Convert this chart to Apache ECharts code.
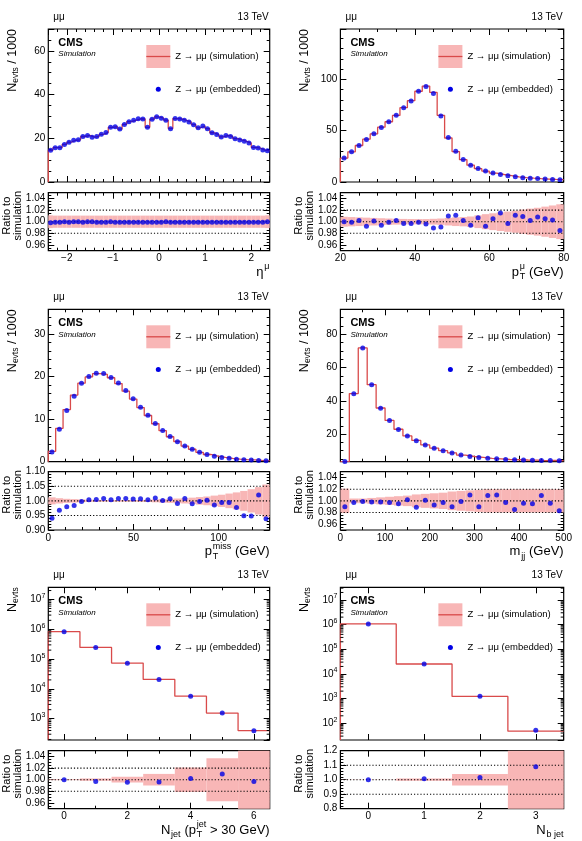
<!DOCTYPE html>
<html>
<head>
<meta charset="utf-8">
<script src="https://cdn.jsdelivr.net/npm/echarts@6.0.0/dist/echarts.min.js"></script>
<style>
html, body { margin: 0; padding: 0; background: #fff; }
#chart { width: 582px; height: 841px; }
</style>
</head>
<body>
<div id="chart"></div>
<script>
// ---- data ----
// eta of the muon, 48 bins from -2.4 to 2.4 (Nevts / 1000)
var etaRange = [-2.4, 2.4];
var etaEmb = [14.5, 15.7, 15.7, 17.2, 18.2, 19.1, 19.3, 20.8, 21.3, 20.5, 20.8, 21.8, 22.7, 25.0, 25.3, 24.2,
	26.3, 27.6, 28.2, 28.9, 28.8, 25.0, 28.7, 29.8, 29.2, 28.3, 24.4, 29.0, 28.8, 28.2, 27.4, 26.2,
	24.8, 25.6, 24.4, 22.5, 21.7, 20.6, 21.3, 20.8, 19.8, 19.2, 18.6, 17.8, 15.8, 15.5, 14.6, 14.3];
var etaRatio = [0.998, 0.999, 0.999, 1.000, 0.999, 1.000, 1.000, 0.999, 1.000, 1.000, 0.999, 0.999, 0.999, 1.000, 0.999, 0.999,
	0.999, 0.999, 0.999, 0.999, 0.999, 0.999, 0.999, 0.999, 0.999, 1.000, 0.999, 0.999, 0.999, 0.999, 0.999, 0.999,
	0.999, 0.999, 0.999, 0.999, 0.999, 0.999, 0.999, 0.999, 0.999, 0.999, 0.999, 0.999, 0.999, 0.999, 0.999, 1.000];
var etaUnc = [0.011, 0.0105, 0.0105, 0.0105, 0.0105, 0.0105, 0.0105, 0.0105, 0.0105, 0.0105, 0.0105, 0.0105, 0.0105, 0.0105, 0.0105, 0.0105,
	0.0105, 0.0105, 0.0105, 0.0105, 0.0105, 0.0105, 0.0105, 0.0105, 0.0105, 0.0105, 0.0105, 0.0105, 0.0105, 0.0105, 0.0105, 0.0105,
	0.0105, 0.0105, 0.0105, 0.0105, 0.0105, 0.0105, 0.0105, 0.0105, 0.0105, 0.0105, 0.0105, 0.0105, 0.0105, 0.0105, 0.0105, 0.011];

// pT of the muon, 30 bins from 20 to 80 GeV
var ptRange = [20, 80];
var ptEmb = [23.3, 29.4, 35.6, 41.4, 46.9, 53.1, 58.6, 65.0, 72.2, 79.0, 88.3, 93.0, 86.3, 64.3, 43.3,
	30.0, 21.8, 16.3, 13.1, 10.6, 8.7, 7.4, 6.1, 5.0, 4.2, 3.7, 3.3, 2.9, 2.5, 2.2];
var ptRatio = [1.000, 0.999, 1.002, 0.992, 1.001, 0.994, 0.999, 1.002, 0.997, 0.997, 0.999, 0.996, 0.989, 0.991, 1.010,
	1.011, 1.002, 0.994, 1.007, 0.992, 1.005, 1.015, 0.997, 1.011, 1.009, 1.002, 1.008, 1.005, 1.003, 0.985];
var ptUnc = [0.0085, 0.008, 0.0075, 0.007, 0.0065, 0.006, 0.0055, 0.005, 0.0048, 0.0046, 0.0045, 0.0045, 0.005, 0.0055, 0.0065,
	0.0075, 0.008, 0.009, 0.011, 0.013, 0.0145, 0.016, 0.0175, 0.019, 0.021, 0.0225, 0.024, 0.026, 0.028, 0.030];

// missing pT, 30 bins from 0 to 130 GeV
var metRange = [0, 130];
var metEmb = [2.3, 7.6, 12.0, 15.4, 18.4, 20.0, 20.8, 20.7, 19.8, 18.5, 16.7, 14.8, 12.8, 10.9, 9.0,
	7.3, 5.9, 4.7, 3.7, 2.9, 2.2, 1.7, 1.3, 1.0, 0.8, 0.6, 0.45, 0.4, 0.3, 0.25];
var metRatio = [0.940, 0.968, 0.980, 0.984, 0.998, 1.004, 1.005, 1.008, 1.004, 1.008, 1.008, 1.006, 1.007, 1.004, 1.010,
	1.001, 1.007, 0.991, 1.008, 0.990, 0.998, 1.002, 0.986, 0.994, 0.994, 0.977, 0.949, 0.948, 1.020, 0.939];
var metUnc = [0.012, 0.009, 0.007, 0.006, 0.005, 0.004, 0.0035, 0.003, 0.003, 0.003, 0.003, 0.003, 0.0035, 0.004, 0.005,
	0.006, 0.007, 0.008, 0.009, 0.011, 0.013, 0.015, 0.018, 0.021, 0.025, 0.029, 0.034, 0.040, 0.047, 0.056];

// dijet mass, 25 bins from 0 to 500 GeV
var mjjRange = [0, 500];
var mjjEmb = [3.5, 44.2, 71.7, 49.6, 35.6, 28.1, 22.8, 18.9, 16.0, 13.5, 11.5, 10.0, 8.6, 7.4, 6.6,
	5.9, 5.4, 5.1, 4.7, 4.5, 4.4, 4.3, 4.1, 4.1, 4.0];
var mjjRatio = [0.990, 0.997, 0.999, 0.998, 0.998, 0.997, 0.995, 1.002, 0.989, 1.001, 0.993, 0.997, 0.990, 0.999, 1.010,
	0.990, 1.009, 1.010, 0.997, 0.985, 0.996, 0.995, 1.009, 0.996, 0.983];
var mjjUnc = [0.021, 0.004, 0.004, 0.005, 0.006, 0.007, 0.008, 0.009, 0.011, 0.012, 0.013, 0.014, 0.016, 0.017, 0.018,
	0.019, 0.020, 0.020, 0.020, 0.020, 0.020, 0.020, 0.020, 0.020, 0.020];

// jet multiplicity, 0..6
var njetRange = [-0.5, 6.5];
var njetEmb = [8.3e5, 2.46e5, 7.3e4, 2.06e4, 5.7e3, 1.55e3, 396];
var njetRatio = [1.000, 0.997, 0.9955, 0.996, 1.002, 1.010, 0.997];
var njetUnc = [0.0008, 0.002, 0.005, 0.010, 0.021, 0.037, 0.06];

// b jet multiplicity, 0..3
var nbRange = [-0.5, 3.5];
var nbEmb = [1.06e6, 2.54e4, 1.24e3, 52];
var nbRatio = [1.000, 1.007, 1.016, 1.089];
var nbUnc = [0.001, 0.008, 0.04, 0.3];

// ---- style ----
var FONT = '"Liberation Sans", Arial, Helvetica, sans-serif';
var RED = '#d94a4a', BAND = '#f8b6b6', BLUE = '#0000e6';

var cols = [{left: 48.3, width: 221.4}, {left: 340.4, width: 223.3}];
var rows = [
	{top: 29, h: 153, rTop: 192.7, rH: 58},
	{top: 309.3, h: 152.4, rTop: 471.7, rH: 58.3},
	{top: 587.3, h: 152.7, rTop: 750.7, rH: 58}
];

var panels = [
	{emb: etaEmb, ratio: etaRatio, unc: etaUnc, bins: etaRange, col: 0, row: 0,
		x: {min: -2.4, max: 2.4, step: 1, minor: 5},
		y: {min: 0, max: 70, step: 20, minor: 4},
		r: {min: 0.95, max: 1.05, step: 0.02, minor: 4, d: 2, lines: [0.98, 1, 1.02]},
		yName: '{n|N}{s|evts}{n| / 1000}',
		xName: [{t: '\u03b7'}, {sup: '\u03bc'}]},
	{emb: ptEmb, ratio: ptRatio, unc: ptUnc, bins: ptRange, col: 1, row: 0,
		x: {min: 20, max: 80, step: 20, minor: 4},
		y: {min: 0, max: 149, step: 50, minor: 5},
		r: {min: 0.95, max: 1.05, step: 0.02, minor: 4, d: 2, lines: [0.98, 1, 1.02]},
		yName: '{n|N}{s|evts}{n| / 1000}',
		xName: [{t: 'p'}, {sup: '\u03bc', sub: 'T'}, {t: ' (GeV)'}]},
	{emb: metEmb, ratio: metRatio, unc: metUnc, bins: metRange, col: 0, row: 1,
		x: {min: 0, max: 130, step: 50, minor: 5},
		y: {min: 0, max: 35.8, step: 10, minor: 5},
		r: {min: 0.9, max: 1.1, step: 0.05, minor: 5, d: 2, lines: [0.95, 1, 1.05]},
		yName: '{n|N}{s|evts}{n| / 1000}',
		xName: [{t: 'p'}, {sup: 'miss', sub: 'T'}, {t: ' (GeV)'}]},
	{emb: mjjEmb, ratio: mjjRatio, unc: mjjUnc, bins: mjjRange, col: 1, row: 1,
		x: {min: 0, max: 500, step: 100, minor: 2},
		y: {min: 3.4, max: 95, step: 20, minor: 4},
		r: {min: 0.95, max: 1.05, step: 0.02, minor: 4, d: 2, lines: [0.98, 1, 1.02]},
		yName: '{n|N}{s|evts}{n| / 1000}',
		xName: [{t: 'm'}, {sub: 'jj'}, {t: ' (GeV)'}]},
	{emb: njetEmb, ratio: njetRatio, unc: njetUnc, bins: njetRange, col: 0, row: 2,
		x: {min: -0.5, max: 6.5, step: 2, minor: 2},
		y: {min: 2.283, max: 7.41, step: 1, log: true},
		r: {min: 0.95, max: 1.05, step: 0.02, minor: 4, d: 2, lines: [0.98, 1, 1.02]},
		yName: '{n|N}{s|evts}',
		xName: [{t: 'N'}, {sub: 'jet'}, {t: ' (p'}, {sup: 'jet', sub: 'T'}, {t: ' > 30 GeV)'}]},
	{emb: nbEmb, ratio: nbRatio, unc: nbUnc, bins: nbRange, col: 1, row: 2,
		x: {min: -0.5, max: 3.5, step: 1, minor: 0},
		y: {min: 1.32, max: 7.51, step: 1, log: true},
		r: {min: 0.8, max: 1.2, step: 0.1, minor: 5, d: 1, lines: [0.9, 1, 1.1]},
		yName: '{n|N}{s|evts}',
		xName: [{t: 'N'}, {sub: 'b jet'}]}
];

var ctx = document.createElement('canvas').getContext('2d');
function measure(t, size) {
	ctx.font = size + 'px ' + FONT;
	return ctx.measureText(t).width;
}
function isMult(v, s) {
	var q = v / s;
	return Math.abs(q - Math.round(q)) < 1e-6;
}

var grids = [], xAxes = [], yAxes = [], series = [], graphics = [];

function axis(o, g, pos, labels, fmt, rich) {
	return {
		type: 'value', gridIndex: g, position: pos,
		min: o.min, max: o.max, minInterval: o.step, maxInterval: o.step, splitNumber: 5,
		axisLine: {show: false, onZero: false},
		axisTick: {show: true, inside: true, length: 6, lineStyle: {color: '#000', width: 1}},
		minorTick: {show: !o.log && o.minor > 1, splitNumber: o.minor || 2, length: 3, lineStyle: {color: '#000', width: 1}},
		splitLine: {show: false},
		axisLabel: {
			show: labels, margin: 3, fontSize: 10, color: '#000', fontFamily: FONT,
			showMinLabel: isMult(o.min, o.step), showMaxLabel: isMult(o.max, o.step),
			formatter: fmt, rich: rich
		}
	};
}

function fmtPlain(v) {
	var r = Math.round(v * 1000) / 1000;
	return r < 0 ? '\u2212' + Math.abs(r) : String(r);
}
function fmtLog(v) {
	return '{b|10}{e|' + Math.round(v) + '}';
}
var logRich = {
	b: {fontSize: 10, lineHeight: 14, fontFamily: FONT, color: '#000'},
	e: {fontSize: 7, lineHeight: 8, verticalAlign: 'top', fontFamily: FONT, color: '#000'}
};

function txt(x, y, s, size, o) {
	o = o || {};
	return {
		type: 'text', x: x, y: y, rotation: o.rot || 0, silent: true, z: 10,
		style: {
			text: s, fontSize: size, fontFamily: FONT,
			fontWeight: o.bold ? 'bold' : 'normal', fontStyle: o.italic ? 'italic' : 'normal',
			fill: '#000', align: o.align || 'left', verticalAlign: o.va || 'middle',
			textAlign: o.align || 'left', textVerticalAlign: o.va || 'middle',
			lineHeight: o.lh, rich: o.rich
		}
	};
}

// axis title made of pieces, right aligned at xr, baseline at base
function xTitle(parts, xr, base) {
	var S = 13, s = 9;
	parts.forEach(function (p) {
		p.w = p.t ? measure(p.t, S) : Math.max(p.sup ? measure(p.sup, s) : 0, p.sub ? measure(p.sub, s) : 0) + 1;
	});
	var x = xr - parts.reduce(function (a, p) { return a + p.w; }, 0);
	parts.forEach(function (p) {
		if (p.t) graphics.push(txt(x, base - 0.3 * S, p.t, S));
		if (p.sup) graphics.push(txt(x + 0.8, base - 6.5 - 0.3 * s, p.sup, s));
		if (p.sub) graphics.push(txt(x + 0.8, base + 3.5 - 0.3 * s, p.sub, s));
		x += p.w;
	});
}

function bandItem(params, api) {
	var a = api.coord([api.value(0), api.value(3)]);
	var b = api.coord([api.value(1), api.value(2)]);
	var cs = params.coordSys;
	var shape = echarts.graphic.clipRectByRect(
		{x: a[0], y: a[1], width: b[0] - a[0], height: b[1] - a[1]},
		{x: cs.x, y: cs.y, width: cs.width, height: cs.height});
	return shape && {type: 'rect', shape: shape, style: {fill: BAND}};
}

function minorLogItem(params, api) {
	var cs = params.coordSys;
	var y = api.coord([api.value(0), api.value(1)])[1];
	return {type: 'group', children: [
		{type: 'line', shape: {x1: cs.x, y1: y, x2: cs.x + 3, y2: y}, style: {stroke: '#000', lineWidth: 1}},
		{type: 'line', shape: {x1: cs.x + cs.width - 3, y1: y, x2: cs.x + cs.width, y2: y}, style: {stroke: '#000', lineWidth: 1}}
	]};
}

panels.forEach(function (p) {
	var c = cols[p.col], r = rows[p.row];
	var gm = grids.length;
	grids.push({left: c.left, top: r.top, width: c.width, height: r.h, show: true, borderColor: '#000', borderWidth: 1.2});
	var gr = grids.length;
	grids.push({left: c.left, top: r.rTop, width: c.width, height: r.rH, show: true, borderColor: '#000', borderWidth: 1.2});

	// axes: bottom/top x, left/right y for both pads
	xAxes.push(axis(p.x, gm, 'bottom', false, fmtPlain));
	xAxes.push(axis(p.x, gm, 'top', false, fmtPlain));
	yAxes.push(axis(p.y, gm, 'left', true, p.y.log ? fmtLog : fmtPlain, p.y.log ? logRich : null));
	yAxes.push(axis(p.y, gm, 'right', false, fmtPlain));
	xAxes.push(axis(p.x, gr, 'bottom', true, fmtPlain));
	xAxes.push(axis(p.x, gr, 'top', false, fmtPlain));
	yAxes.push(axis(p.r, gr, 'left', true, function (v) { return v.toFixed(p.r.d); }));
	yAxes.push(axis(p.r, gr, 'right', false, fmtPlain));

	var n = p.emb.length, lo = p.bins[0], w = (p.bins[1] - lo) / n;
	var tf = p.y.log ? Math.log10 : function (v) { return v; };
	var sim = p.emb.map(function (v, k) { return v / p.ratio[k]; });
	var hist = [[lo, p.y.min]];
	sim.forEach(function (v, k) { hist.push([lo + k * w, tf(v)]); });
	hist.push([lo + n * w, tf(sim[n - 1])]);

	series.push({type: 'line', xAxisIndex: 2 * gm, yAxisIndex: 2 * gm, data: hist, step: 'end',
		symbol: 'none', lineStyle: {color: RED, width: 1.3}, z: 2, silent: true});
	series.push({type: 'scatter', xAxisIndex: 2 * gm, yAxisIndex: 2 * gm, symbolSize: 5,
		data: p.emb.map(function (v, k) { return [lo + (k + 0.5) * w, tf(v)]; }),
		itemStyle: {color: BLUE}, z: 3, silent: true});

	if (p.y.log) {
		var mt = [];
		for (var e = Math.floor(p.y.min); e <= Math.ceil(p.y.max); e++) {
			for (var m = 2; m <= 9; m++) {
				var v = e + Math.log10(m);
				if (v > p.y.min && v < p.y.max) mt.push([p.x.min, v]);
			}
		}
		series.push({type: 'custom', xAxisIndex: 2 * gm, yAxisIndex: 2 * gm, data: mt,
			renderItem: minorLogItem, z: 4, silent: true});
	}

	series.push({type: 'custom', xAxisIndex: 2 * gr, yAxisIndex: 2 * gr, z: 1, silent: true,
		data: p.unc.map(function (u, k) { return [lo + k * w, lo + (k + 1) * w, 1 - u, 1 + u]; }),
		renderItem: bandItem});
	p.r.lines.forEach(function (v) {
		series.push({type: 'line', xAxisIndex: 2 * gr, yAxisIndex: 2 * gr, data: [[p.x.min, v], [p.x.max, v]],
			symbol: 'none', lineStyle: {color: '#000', width: 1.1, type: [1.2, 2]}, z: 2, silent: true});
	});
	series.push({type: 'scatter', xAxisIndex: 2 * gr, yAxisIndex: 2 * gr, symbolSize: 5,
		data: p.ratio.map(function (v, k) { return [lo + (k + 0.5) * w, v]; }),
		itemStyle: {color: BLUE}, z: 3, silent: true});

	// texts
	var L = c.left, T = r.top, R = c.left + c.width;
	graphics.push(txt(L + 5, T - 12, '\u03bc\u03bc', 10));
	graphics.push(txt(R - 1, T - 12, '13 TeV', 10, {align: 'right'}));
	graphics.push(txt(L + 10, T + 13.7, 'CMS', 11, {bold: true}));
	graphics.push(txt(L + 10, T + 25, 'Simulation', 8, {italic: true}));
	graphics.push({type: 'rect', shape: {x: L + 98, y: T + 16, width: 24, height: 23}, style: {fill: BAND}, silent: true, z: 10});
	graphics.push({type: 'line', shape: {x1: L + 98, y1: T + 27.5, x2: L + 122, y2: T + 27.5}, style: {stroke: RED, lineWidth: 1.3}, silent: true, z: 10});
	graphics.push(txt(L + 127, T + 27.5, 'Z \u2192 \u03bc\u03bc (simulation)', 9.5));
	graphics.push({type: 'circle', shape: {cx: L + 110, cy: T + 60.3, r: 2.5}, style: {fill: BLUE}, silent: true, z: 10});
	graphics.push(txt(L + 127, T + 60.3, 'Z \u2192 \u03bc\u03bc (embedded)', 9.5));

	graphics.push(txt(L - 36, T, p.yName, 12.5, {rot: Math.PI / 2, align: 'right', rich: {
		n: {fontSize: 12.5, lineHeight: 16, fontFamily: FONT, color: '#000'},
		s: {fontSize: 8.5, lineHeight: 11, verticalAlign: 'bottom', fontFamily: FONT, color: '#000'}
	}}));
	graphics.push(txt(L - 36, r.rTop + r.rH / 2 - 6, 'Ratio to\nsimulation', 11, {rot: Math.PI / 2, align: 'center', lh: 10.6}));
	xTitle(p.xName, R, r.rTop + r.rH + 25.5);
});

var chart = echarts.init(document.getElementById('chart'), null, {renderer: 'canvas'});
chart.setOption({
	animation: false,
	backgroundColor: '#fff',
	grid: grids,
	xAxis: xAxes,
	yAxis: yAxes,
	series: series,
	graphic: {elements: graphics}
});
</script>
</body>
</html>
